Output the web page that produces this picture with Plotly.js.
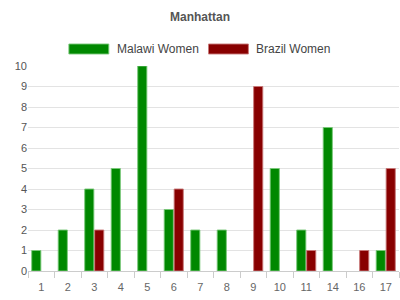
<!DOCTYPE html>
<html>
<head>
<script src="https://cdn.plot.ly/plotly-3.0.1.min.js"></script>
<style>body{margin:0;padding:0;}#chart{width:400px;height:300px;}</style>
</head>
<body>
<div id="chart"></div>
<script>
var categories = ["1","2","3","4","5","6","7","8","9","10","11","14","16","17"];
var malawiWomen = [1,2,4,5,10,3,2,2,0,5,2,7,0,1];
var brazilWomen = [0,0,2,0,0,4,0,0,9,0,1,0,1,5];
var seriesNames = ["Malawi Women","Brazil Women"];
var seriesColors = ["#008800","#880000"];
var seriesLines = ["rgba(120,200,120,0.9)","rgba(200,120,120,0.9)"];

var traces = [malawiWomen, brazilWomen].map(function(vals, i){
  return {
    type: "bar",
    x: categories,
    y: vals,
    name: seriesNames[i],
    marker: {color: seriesColors[i], line: {color: seriesLines[i], width: vals.map(function(v){ return v ? 1 : 0; })}},
    showlegend: false,
    hoverinfo: "x+y+name"
  };
});

var font = {family: "Arial, 'Liberation Sans', sans-serif", size: 12, color: "#555"};
var legendX = [69, 209];
var shapes = [], annotations = [];
seriesNames.forEach(function(n, i){
  shapes.push({type: "rect", xref: "paper", yref: "paper",
    x0: (legendX[i]-28)/372, x1: (legendX[i]+40-28)/372,
    y0: (271-54)/205, y1: (271-44)/205,
    fillcolor: seriesColors[i], line: {color: seriesLines[i], width: 1}});
  annotations.push({xref: "paper", yref: "paper", x: (legendX[i]+46-28)/372, y: (271-49)/205,
    xanchor: "left", yanchor: "middle", showarrow: false, text: n,
    font: {family: font.family, size: 12, color: "#444"}});
});

var layout = {
  width: 400, height: 300,
  margin: {l: 28, r: 1, t: 66, b: 29},
  paper_bgcolor: "#fff", plot_bgcolor: "#fff",
  font: font,
  title: {text: "<b>Manhattan</b>", x: 0.5, xanchor: "center", y: 1 - 17/300, yanchor: "middle",
    font: {family: font.family, size: 12, color: "#555"}},
  barmode: "group", bargap: 0.25, bargroupgap: 0.08,
  xaxis: {type: "category", tickson: "boundaries", ticks: "outside", ticklen: 6, tickcolor: "#ccc",
    ticklabelstandoff: 8,
    showgrid: false, showline: false, zeroline: false,
    tickfont: {family: font.family, size: 11, color: "#666"}},
  yaxis: {range: [0, 10], dtick: 1, showgrid: true, gridcolor: "#e3e3e3", zeroline: true, zerolinecolor: "#ccc",
    ticks: "", tickfont: {family: font.family, size: 11, color: "#555"}, fixedrange: true},
  shapes: shapes,
  annotations: annotations,
  showlegend: false
};

Plotly.newPlot("chart", traces, layout, {displayModeBar: false, staticPlot: true});
</script>
</body>
</html>
